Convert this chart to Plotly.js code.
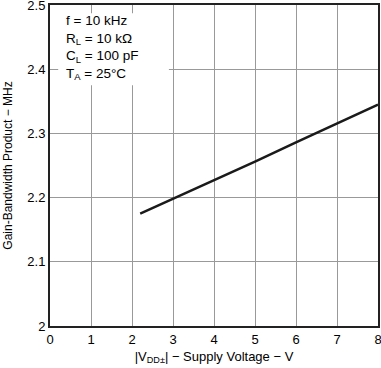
<!DOCTYPE html>
<html><head><meta charset="utf-8">
<script src="https://cdn.plot.ly/plotly-3.0.1.min.js"></script>
<style>body{margin:0;background:#fff}#c{width:381px;height:368px}</style>
</head><body><div id="c"></div>
<script>
var supplyVoltage = [2.2, 3, 4, 5, 6, 7, 8];
var gbw = [2.175, 2.198, 2.227, 2.256, 2.286, 2.315, 2.345];
var xTicks = [0,1,2,3,4,5,6,7,8];
var yTicks = [2, 2.1, 2.2, 2.3, 2.4, 2.5];
var yTickLabels = ['2', '2.1', '2.2', '2.3', '2.4', '2.5'];

var font = {family: 'Liberation Sans, Arial, sans-serif', size: 12, color: '#000'};
var trace = {x: supplyVoltage, y: gbw, mode: 'lines', line: {color: '#1a1a1a', width: 2.5}, hoverinfo: 'skip'};
var layout = {
  width: 381, height: 368,
  margin: {l: 50, r: 3, t: 5, b: 42},
  paper_bgcolor: '#fff', plot_bgcolor: '#fff',
  font: font, showlegend: false,
  xaxis: {range: [0, 8], tickvals: xTicks, ticks: '', showgrid: true, gridcolor: '#999', gridwidth: 1,
    zeroline: false, showline: true, linecolor: '#222', linewidth: 2, mirror: true, ticklabeloverflow: 'allow',
    tickfont: {family: font.family, size: 13, color: '#000'},
    title: {text: '|V<sub>DD±</sub>| − Supply Voltage − V', font: {family: font.family, size: 13}, standoff: 6}},
  yaxis: {range: [2, 2.5], tickvals: yTicks, ticktext: yTickLabels, ticks: '', showgrid: true, gridcolor: '#999', gridwidth: 1,
    zeroline: false, showline: true, linecolor: '#222', linewidth: 2, mirror: true, ticklabeloverflow: 'allow',
    tickfont: {family: font.family, size: 13, color: '#000'},
    title: {text: 'Gain-Bandwidth Product − MHz', font: {family: font.family, size: 12}, standoff: 12}},
  shapes: [{type: 'rect', xref: 'x', yref: 'y', x0: 0.2, x1: 2.9, y0: 2.375, y1: 2.487,
    fillcolor: '#fff', line: {width: 0}, layer: 'between'}],
  annotations: [{xref: 'x', yref: 'y', x: 0.35, y: 2.49, xanchor: 'left', yanchor: 'top', align: 'left',
    showarrow: false, font: {family: font.family, size: 13.5, color: '#000'},
    text: 'f = 10 kHz<br>R<sub>L</sub> = 10 kΩ<br>C<sub>L</sub> = 100 pF<br>T<sub>A</sub> = 25°C'}]
};
Plotly.newPlot('c', [trace], layout, {displayModeBar: false, staticPlot: true});
</script></body></html>
